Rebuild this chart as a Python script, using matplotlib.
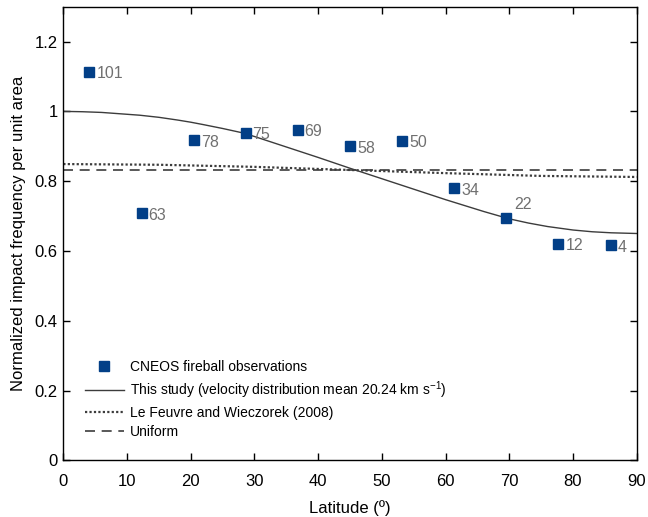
import matplotlib
matplotlib.use("Agg")
import matplotlib.pyplot as plt

plt.rcParams['font.family'] = ['Liberation Sans', 'DejaVu Sans']

# CNEOS fireball observations
obs_lat = [4.1, 12.3, 20.5, 28.6, 36.8, 45.0, 53.2, 61.4, 69.5, 77.7, 85.9]
obs_freq = [1.114, 0.708, 0.917, 0.939, 0.947, 0.900, 0.916, 0.780, 0.693, 0.621, 0.616]
obs_count = ["101", "63", "78", "75", "69", "58", "50", "34", "22", "12", "4"]

# This study curve
study_lat = [0, 3, 6, 9, 12, 15, 18, 20, 22, 25, 28, 30, 35, 40, 45, 50, 55, 60,
             63, 66, 70, 73, 76, 80, 83, 86, 90]
study_freq = [1.000, 0.999, 0.997, 0.993, 0.989, 0.983, 0.975, 0.969, 0.962, 0.951,
              0.939, 0.928, 0.898, 0.868, 0.837, 0.807, 0.777, 0.747, 0.730, 0.713,
              0.692, 0.680, 0.670, 0.660, 0.655, 0.652, 0.650]

# Le Feuvre and Wieczorek (2008)
lfw_lat = [0, 15, 30, 45, 60, 75, 90]
lfw_freq = [0.849, 0.847, 0.841, 0.832, 0.823, 0.815, 0.812]

# Uniform
uni_lat = [0, 90]
uni_freq = [0.831, 0.831]

fig = plt.figure(figsize=(6.48, 5.17), dpi=100)
ax = fig.add_axes([63.3/648, 1 - 460.3/517, (636.7 - 63.3)/648, (460.3 - 6.7)/517])

ax.plot(obs_lat, obs_freq, linestyle='none', marker='s', markersize=6.8,
        color='#023f87', label='CNEOS fireball observations', zorder=5)
ax.plot(study_lat, study_freq, '-', color='#3c3c3c', lw=1.0,
        label='This study (velocity distribution mean 20.24 km s$^{\\mathregular{-1}}$)')
ax.plot(lfw_lat, lfw_freq, linestyle=(0, (1, 1)), color='#3c3c3c', lw=1.6,
        label='Le Feuvre and Wieczorek (2008)')
ax.plot(uni_lat, uni_freq, linestyle=(0, (6, 4)), color='#3c3c3c', lw=1.2,
        label='Uniform')

for x, y, t in zip(obs_lat, obs_freq, obs_count):
    if t == "22":
        ax.annotate(t, (x, y), xytext=(6, 5), textcoords='offset points',
                    fontsize=11.5, color='#707070', va='bottom', ha='left')
    else:
        ax.annotate(t, (x, y), xytext=(5, -1.5), textcoords='offset points',
                    fontsize=11.5, color='#707070', va='center', ha='left')

ax.set_xlim(0, 90)
ax.set_ylim(0, 1.3)
ax.set_xticks(range(0, 91, 10))
ax.set_yticks([0, 0.2, 0.4, 0.6, 0.8, 1.0, 1.2])
ax.set_yticklabels(['0', '0.2', '0.4', '0.6', '0.8', '1', '1.2'])
ax.tick_params(direction='in', length=5, width=1, top=True, right=True,
               labelsize=12)
ax.tick_params(axis='x', pad=10)
ax.tick_params(axis='y', pad=4)
for s in ax.spines.values():
    s.set_linewidth(1.0)

ax.set_xlabel('Latitude (º)', fontsize=12, labelpad=8)
ax.set_ylabel('Normalized impact frequency per unit area', fontsize=12, labelpad=6)

leg = ax.legend(loc='lower left', bbox_to_anchor=(0.028, 0.034), frameon=False,
                fontsize=10, handlelength=2.8, handletextpad=0.45,
                labelspacing=0.38, borderaxespad=0)

fig.savefig('out.png', dpi=100)
